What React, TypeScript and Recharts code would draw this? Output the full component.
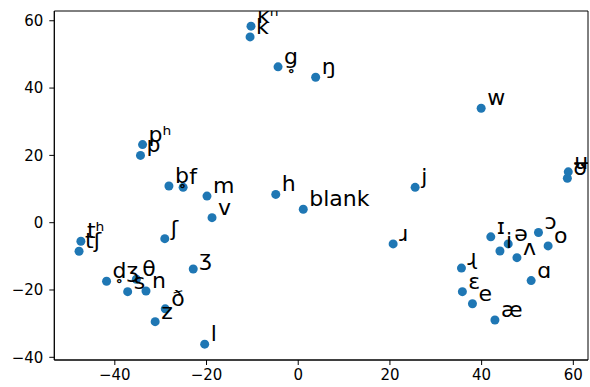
import { ScatterChart, Scatter, XAxis, YAxis, ReferenceArea } from "recharts";

// phoneme labels with their 2-D embedding positions
const labels = [
  "kʰ", "k", "g̥", "ŋ", "w", "pʰ", "p", "b̥", "f", "m", "v", "h", "blank",
  "j", "ʉ", "ʊ", "ʃ", "tʰ", "tʃ", "ɹ", "ɪ", "ə", "i", "ʌ", "ɔ", "o", "ɑ",
  "ɻ", "ɛ", "e", "æ", "d̥ʒ", "θ", "s", "n", "ʒ", "ð", "z", "l",
];
const xs = [
  -10.3, -10.5, -4.4, 3.8, 39.9, -33.95, -34.4, -28.2, -25.1, -19.9, -18.8, -4.9, 1.1,
  25.5, 58.9, 58.7, -29.1, -47.4, -47.8, 20.7, 42.0, 45.8, 44.0, 47.7, 52.4, 54.5, 50.8,
  35.6, 35.8, 38.0, 42.9, -41.8, -35.3, -37.2, -33.2, -22.9, -29.0, -31.2, -20.4,
];
const ys = [
  58.4, 55.2, 46.3, 43.2, 34.0, 23.2, 20.0, 10.9, 10.5, 7.9, 1.5, 8.4, 4.0,
  10.5, 15.1, 13.2, -4.75, -5.5, -8.5, -6.3, -4.2, -6.3, -8.4, -10.4, -2.9, -6.9, -17.2,
  -13.5, -20.5, -24.1, -28.9, -17.4, -16.8, -20.5, -20.3, -13.75, -25.6, -29.4, -36.1,
];
const xTicks = [-40, -20, 0, 20, 40, 60];
const yTicks = [-40, -20, 0, 20, 40, 60];
const xDomain: [number, number] = [-53.2, 63.2];
const yDomain: [number, number] = [-40.8, 62.9];

const points = labels.map((label, i) => ({ label, x: xs[i], y: ys[i] }));

const fmt = (v: number) => String(v).replace("-", "\u2212");
const tickStyle = { fill: "#000", fontSize: 15 };
const lineStyle = { stroke: "#000", strokeWidth: 1 };

const Dot = (props: any) => {
  const { cx, cy } = props;
  return <circle cx={cx} cy={cy} r={4.5} fill="#1f77b4" />;
};

const Tag = (props: any) => {
  const { cx, cy, payload } = props;
  return (
    <text x={cx + 6} y={cy - 3} fontSize={22} fill="#000">
      {payload.label}
    </text>
  );
};

export default function App() {
  return (
    <div
      style={{
        position: "absolute",
        left: 0,
        top: 0,
        width: 590,
        height: 387,
        background: "#fff",
        fontFamily: "'DejaVu Sans', sans-serif",
      }}
    >
      <ScatterChart
        width={590}
        height={387}
        margin={{ top: 11, right: 2, bottom: 0, left: 0 }}
      >
        <XAxis
          type="number"
          dataKey="x"
          domain={xDomain}
          allowDataOverflow
          ticks={xTicks}
          tickFormatter={fmt}
          tick={tickStyle}
          tickSize={5}
          tickMargin={4}
          tickLine={lineStyle}
          axisLine={lineStyle}
          height={27}
        />
        <YAxis
          type="number"
          dataKey="y"
          domain={yDomain}
          allowDataOverflow
          ticks={yTicks}
          tickFormatter={fmt}
          tick={tickStyle}
          tickSize={5}
          tickMargin={6}
          tickLine={lineStyle}
          axisLine={lineStyle}
          width={54.3}
        />
        {/* frame: matplotlib draws all four spines */}
        <ReferenceArea
          x1={xDomain[0]}
          x2={xDomain[1]}
          y1={yDomain[0]}
          y2={yDomain[1]}
          fill="none"
          fillOpacity={0}
          stroke="#000"
          strokeWidth={1}
          ifOverflow="visible"
        />
        <Scatter data={points} shape={Dot} isAnimationActive={false} />
        <Scatter data={points} shape={Tag} isAnimationActive={false} />
      </ScatterChart>
    </div>
  );
}
